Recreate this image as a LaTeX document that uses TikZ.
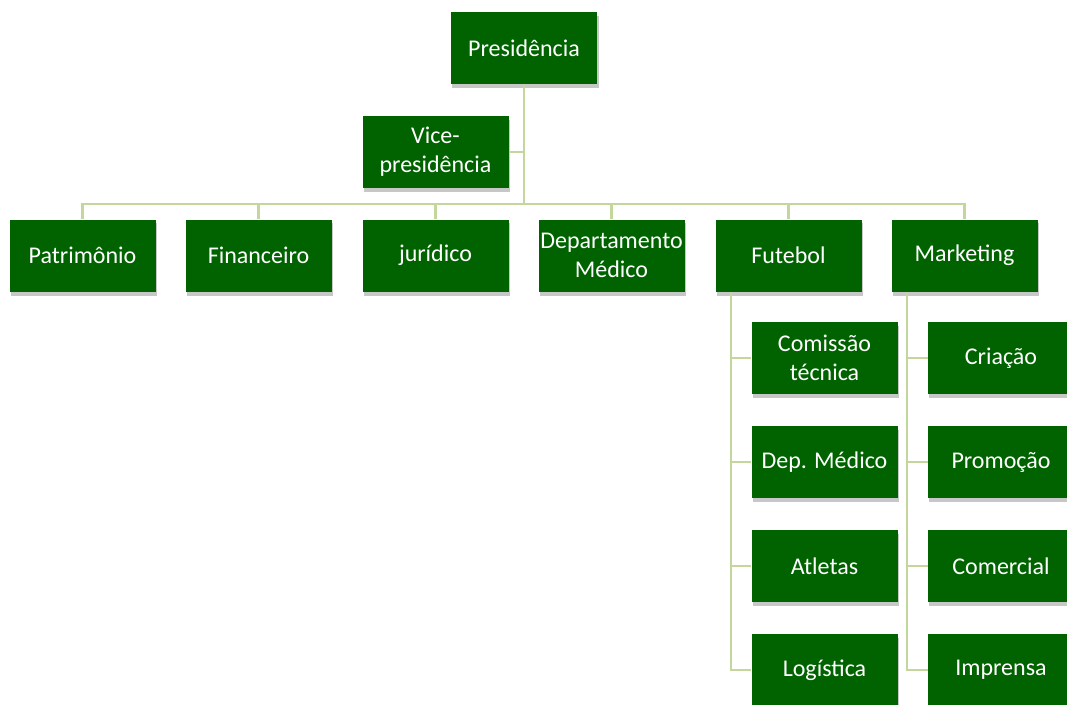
\documentclass[tikz,border=0pt]{standalone}
\usepackage{fontspec}
\setmainfont{Carlito}
\usetikzlibrary{backgrounds}
\definecolor{boxgreen}{HTML}{006300}
\definecolor{linegreen}{HTML}{C3D69B}

\begin{document}
\begin{tikzpicture}[x=0.75pt, y=-0.75pt,
  unit box/.style={rectangle, fill=boxgreen, text=white, minimum width=109.5pt, minimum height=54pt,
    align=center, font=\fontsize{18}{21.5}\selectfont, inner sep=1pt},
  box shadow/.style={fill=black, opacity=0.22},
  link/.style={draw=linegreen, line width=1.8pt}]
  \path[use as bounding box, clip] (0,0) rectangle (1067,704);

  \node[unit box] (pres) at (524,48) {Presidência};
  \node[unit box] (vice) at (435.5,152) {Vice-\\presidência};

  \node[unit box] (patr) at (82.5,255.5) {Patrimônio};
  \node[unit box] (fin) at (258.5,255.5) {Financeiro};
  \node[unit box] (jur) at (435.5,255.5) {jurídico};
  \node[unit box] (dep) at (611.5,255.5) {Departamento\\Médico};
  \node[unit box] (fut) at (788.5,255.5) {Futebol};
  \node[unit box] (mkt) at (964.5,255.5) {Marketing};

  \node[unit box] (com) at (824.5,358) {Comissão\\técnica};
  \node[unit box] (med) at (824.5,462) {Dep. Médico};
  \node[unit box] (atl) at (824.5,566) {Atletas};
  \node[unit box] (log) at (824.5,670) {Logística};

  \node[unit box] (cri) at (1001,358) {Criação};
  \node[unit box] (pro) at (1001,462) {Promoção};
  \node[unit box] (cml) at (1001,566) {Comercial};
  \node[unit box] (imp) at (1001,670) {Imprensa};

  \coordinate (bus) at (524,204);
  \coordinate (futbus) at (731,292);
  \coordinate (mktbus) at (907,292);

  \begin{scope}[on background layer]
    \foreach \n in {pres,vice,patr,fin,jur,dep,fut,mkt,com,med,atl,log,cri,pro,cml,imp}
      \fill[box shadow] ([xshift=1pt,yshift=-3pt]\n.south west) rectangle ([xshift=1pt,yshift=-3pt]\n.north east);
  \end{scope}

  \path[link] (pres) -- (bus);
  \path[link] (vice) -- (vice -| pres);
  \foreach \n in {patr,fin,jur,dep,fut,mkt}
    \path[link] (bus) -| (\n);
  \foreach \n in {com,med,atl,log}
    \path[link] (futbus) |- (\n);
  \foreach \n in {cri,pro,cml,imp}
    \path[link] (mktbus) |- (\n);

\end{tikzpicture}
\end{document}
